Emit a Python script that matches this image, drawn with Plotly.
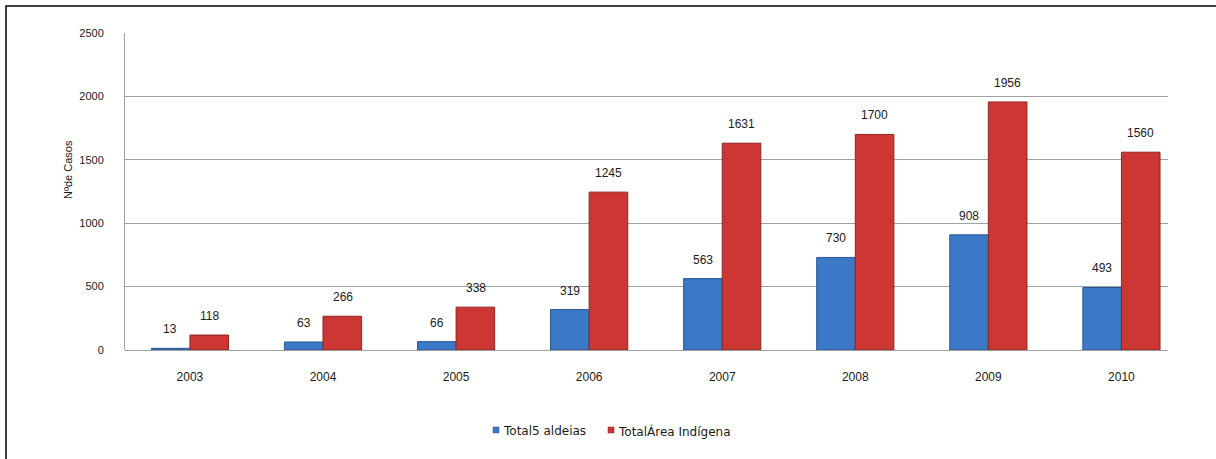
import plotly.graph_objects as go

years = ["2003", "2004", "2005", "2006", "2007", "2008", "2009", "2010"]
aldeias = [13, 63, 66, 319, 563, 730, 908, 493]
area_indigena = [118, 266, 338, 1245, 1631, 1700, 1956, 1560]
series_names = ["Total5 aldeias", "TotalÁrea Indígena"]
y_ticks = [0, 500, 1000, 1500, 2000, 2500]

W, H = 1216, 459
L, R, T, B = 125, 1168, 33, 350
colors = ["#3b78c6", "#cc3633"]
edges = ["#2a5796", "#8e2322"]

fig = go.Figure()
for name, vals, c, e in zip(series_names, (aldeias, area_indigena), colors, edges):
    fig.add_trace(go.Bar(
        x=years, y=vals, name=name, showlegend=False,
        marker=dict(color=c, line=dict(color=e, width=1)),
    ))

pw, ph = R - L, B - T
def px(x):
    return (x - L) / pw
def py(y):
    return (B - y) / ph

annotations = []
for i, y in enumerate(years):
    for vals, dx in ((aldeias, -19.5), (area_indigena, 19.5)):
        annotations.append(dict(
            x=i, y=vals[i], xref="x", yref="y", text=str(vals[i]),
            showarrow=False, xshift=dx, yshift=19, yanchor="middle",
            font=dict(family="Liberation Sans, Arial", size=12, color="#1a1a1a"),
        ))

annotations.append(dict(
    x=px(60), y=py(170), xref="paper", yref="paper",
    text="Nºde Casos", textangle=-90, showarrow=False,
    font=dict(family="Liberation Sans, Arial", size=11, color="#1a1a1a"),
))

shapes = [dict(type="rect", xref="paper", yref="paper",
               x0=px(6), x1=px(1230), y0=py(470), y1=py(6),
               line=dict(color="black", width=1.5))]

# custom legend (small square swatches + labels)
legend_x = [493, 608]
for name, c, e, lx in zip(series_names, colors, edges, legend_x):
    shapes.append(dict(type="rect", xref="paper", yref="paper",
                       x0=px(lx), x1=px(lx + 6), y0=py(433), y1=py(427),
                       fillcolor=c, line=dict(color=e, width=0.5)))
    annotations.append(dict(
        x=px(lx + 8), y=py(431), xref="paper", yref="paper", text=name,
        showarrow=False, xanchor="left", yanchor="middle",
        font=dict(family="DejaVu Sans", size=12, color="#1a1a1a"),
    ))

fig.update_layout(
    width=W, height=H,
    margin=dict(l=L, r=W - R, t=T, b=H - B, autoexpand=False),
    paper_bgcolor="white", plot_bgcolor="white",
    barmode="group", bargap=0.42, bargroupgap=0,
    showlegend=False,
    annotations=annotations,
    shapes=shapes,
)
fig.update_xaxes(
    type="category", range=[-0.488, 7.35],
    showgrid=False, showline=False, ticks="", ticklabelstandoff=18,
    tickfont=dict(family="Liberation Sans, Arial", size=12, color="#1a1a1a"),
)
fig.update_yaxes(
    range=[0, 2500], tickvals=y_ticks, ticktext=[str(v) for v in y_ticks],
    showgrid=True, gridcolor="#a0a0a0", gridwidth=1,
    showline=True, linecolor="#a0a0a0", linewidth=1,
    zeroline=True, zerolinecolor="#a0a0a0", zerolinewidth=1,
    ticks="", ticklabelstandoff=18,
    tickfont=dict(family="Liberation Sans, Arial", size=11, color="#1a1a1a"),
)
fig.write_html("out.html")
